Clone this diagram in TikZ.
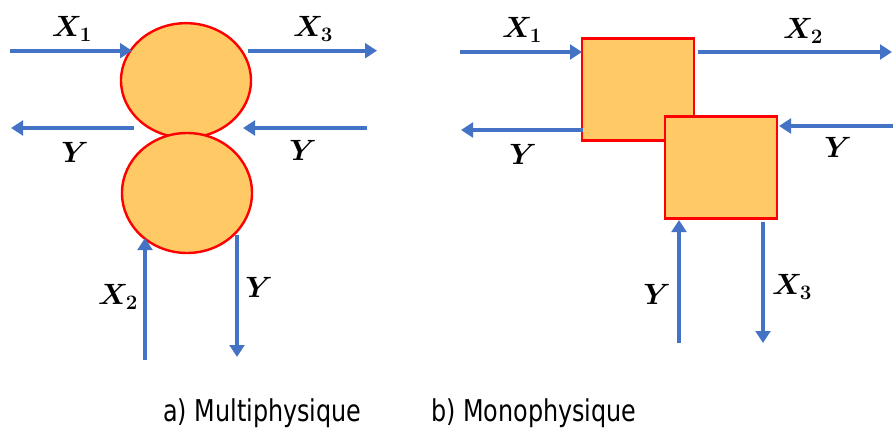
\documentclass[tikz,border=0pt]{standalone}
\usepackage{fix-cm}
\usepackage{graphicx}
\usepackage{fontspec}
\usepackage{bm}
\usetikzlibrary{arrows.meta,shapes.geometric}
\newfontfamily\capfont{DejaVu Sans Condensed}
\definecolor{flowblue}{HTML}{4472C4}
\definecolor{boxfill}{HTML}{FFC966}
\definecolor{boxred}{HTML}{FF0000}
\newcommand\captext[1]{\scalebox{0.884}[1]{#1}}
\begin{document}
\begin{tikzpicture}[x=0.75pt,y=-0.75pt,
  flow/.style={draw=flowblue, line width=3pt, -{Triangle[length=9pt,width=11pt]}},
  ball/.style={ellipse, draw=boxred, fill=boxfill, line width=1.8pt, inner sep=0pt},
  block/.style={rectangle, draw=boxred, fill=boxfill, line width=2.2pt, minimum width=84pt, minimum height=77pt, inner sep=0pt},
  lab/.style={font=\fontsize{22}{26}\selectfont, inner sep=0pt},
  caption/.style={font=\capfont\fontsize{22.5}{26}\selectfont, anchor=base west, inner sep=0pt}]
\useasboundingbox (0,0) rectangle (893,428);

% ---------- a) Multiphysique ----------
\node[ball, minimum width=97.5pt, minimum height=86pt] (c1) at (186,80.5) {};
\node[ball, minimum width=97.5pt, minimum height=90pt] (c2) at (187,193) {};

\coordinate (a1s) at (10,50.7);   \coordinate (a1e) at (132,50.7);
\coordinate (a3s) at (248,50.7);  \coordinate (a3e) at (377,50.7);
\coordinate (ayls) at (134,128);  \coordinate (ayle) at (11,128);
\coordinate (ayrs) at (367,128);  \coordinate (ayre) at (243,128);
\coordinate (a2s) at (145,360);   \coordinate (a2e) at (145,238);
\coordinate (ayds) at (237,235);  \coordinate (ayde) at (237,357);

\draw[flow] (a1s) -- (a1e);
\draw[flow] (a3s) -- (a3e);
\draw[flow] (ayls) -- (ayle);
\draw[flow] (ayrs) -- (ayre);
\draw[flow] (a2s) -- (a2e);
\draw[flow] (ayds) -- (ayde);

\node[lab] (lx1a) at (72,29) {$\bm{X_1}$};
\node[lab] (lx3a) at (313,29) {$\bm{X_3}$};
\node[lab] (lyla) at (75,152) {$\bm{Y}$};
\node[lab] (lyra) at (303,150) {$\bm{Y}$};
\node[lab] (lx2a) at (118,297) {$\bm{X_2}$};
\node[lab] (lyda) at (259,287) {$\bm{Y}$};

% ---------- b) Monophysique ----------
\node[block] (s1) at (638,89.5) {};
\node[block] (s2) at (721,167.5) {};

\coordinate (b1s) at (460,52);   \coordinate (b1e) at (582,52);
\coordinate (b2s) at (698,52);   \coordinate (b2e) at (892,52);
\coordinate (byls) at (583,130); \coordinate (byle) at (461,130);
\coordinate (byrs) at (893,126); \coordinate (byre) at (779,126);
\coordinate (byus) at (679,343); \coordinate (byue) at (679,220);
\coordinate (b3s) at (763,222);  \coordinate (b3e) at (763,343);

\draw[flow] (b1s) -- (b1e);
\draw[flow] (b2s) -- (b2e);
\draw[flow] (byls) -- (byle);
\draw[flow] (byrs) -- (byre);
\draw[flow] (byus) -- (byue);
\draw[flow] (b3s) -- (b3e);

\node[lab] (lx1b) at (522,30) {$\bm{X_1}$};
\node[lab] (lx2b) at (803,31) {$\bm{X_2}$};
\node[lab] (lylb) at (523,154) {$\bm{Y}$};
\node[lab] (lyrb) at (838,147) {$\bm{Y}$};
\node[lab] (lyub) at (657,294) {$\bm{Y}$};
\node[lab] (lx3b) at (792,287) {$\bm{X_3}$};

% ---------- captions ----------
\node[caption] (capa) at (163,421) {\captext{a) Multiphysique}};
\node[caption] (capb) at (431,421) {\captext{b) Monophysique}};
\end{tikzpicture}
\end{document}
